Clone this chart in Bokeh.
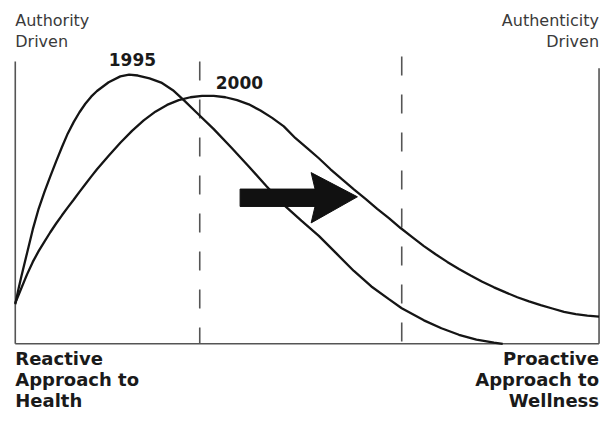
from bokeh.plotting import figure
from bokeh.models import Label, Range1d
from bokeh.embed import file_html
from bokeh.resources import INLINE

# ---- data (position along continuum 0..100, relative level 0..100) ----
x_1995 = [0, 0.5, 1, 2, 3, 4, 5, 6, 7, 8, 9, 10, 11, 12, 13, 14, 16, 18, 19.5, 21, 23, 25, 27,
          29, 31, 34, 37, 40, 43, 46, 49, 52, 55, 58, 61, 64, 66.2, 70, 73, 76, 79, 82, 83.5]
y_1995 = [14, 19, 23.5, 32, 40.5, 47.8, 53.8, 59.3, 64.6, 69.7, 74.5, 78.5, 82, 85, 87.5, 89.5,
          92.6, 94.7, 95.3, 95.0, 94.0, 92.5, 89.8, 86.0, 82.0, 76.0, 69.5, 62.8, 55.9, 49.2,
          43.6, 38.2, 32.0, 25.8, 20.3, 15.8, 12.6, 8.3, 5.5, 3.2, 1.5, 0.4, 0]

x_2000 = [0, 1, 2, 3, 4, 5, 6, 7, 8, 9, 10, 11, 12, 13, 14, 16, 18, 20, 22, 24, 26, 28, 30, 32,
          34, 36, 38, 40, 42, 44, 46, 48, 50, 52, 54, 56, 58, 60, 62, 64, 66, 68, 70, 72, 74, 76,
          78, 80, 82, 84, 86, 88, 90, 92, 94, 96, 98, 100]
y_2000 = [14.4, 19.5, 24.5, 29, 32.8, 36.2, 39.5, 42.6, 45.5, 48.3, 51, 53.8, 56.5, 59.2, 61.8,
          66.6, 71.2, 75.4, 79.1, 82.2, 84.6, 86.3, 87.3, 87.8, 87.8, 87.3, 86.3, 84.8, 82.6, 80,
          77, 72.8, 69.3, 65.7, 61.8, 58.2, 54.7, 51.3, 47.8, 44.5, 41, 37.8, 34.6, 31.7, 29,
          26.5, 24.2, 22, 20, 18.2, 16.5, 15.0, 13.7, 12.5, 11.3, 10.5, 10.0, 9.6]

series_labels = ["1995", "2000"]
divider_x = [31.6, 66.2]
top_left_label = ["Authority", "Driven"]
top_right_label = ["Authenticity", "Driven"]
bottom_left_label = ["Reactive", "Approach to", "Health"]
bottom_right_label = ["Proactive", "Approach to", "Wellness"]

# ---- figure ----
p = figure(width=600, height=411, output_backend="svg", toolbar_location=None,
           x_range=Range1d(-2.531, 100.25), y_range=Range1d(-23.97, 121.56),
           min_border=0, min_border_left=0, min_border_right=0,
           min_border_top=0, min_border_bottom=0)
p.axis.visible = False
p.grid.visible = False
p.outline_line_color = None
p.background_fill_color = "white"
p.border_fill_color = "white"

axis_col = "#555555"
# frame lines
p.line([0, 0], [100, 0], line_color=axis_col, line_width=1.6)
p.line([0, 100], [0, 0], line_color=axis_col, line_width=1.6)
p.line([100, 100], [97.6, 0], line_color=axis_col, line_width=1.6)

# dashed dividers
p.line([divider_x[0], divider_x[0]], [100, 0], line_color=axis_col, line_width=1.6,
       line_dash="19 19")
p.line([divider_x[1], divider_x[1]], [101.7, 0], line_color=axis_col, line_width=1.6,
       line_dash="19 19")

# curves
p.line(x_1995, y_1995, line_color="#151515", line_width=2.3)
p.line(x_2000, y_2000, line_color="#151515", line_width=2.3)

# arrow
arrow_x = [38.51, 51.35, 50.68, 58.61, 50.68, 51.35, 38.51]
arrow_y = [54.79, 54.79, 60.62, 52.05, 42.81, 48.63, 48.63]
p.patch(arrow_x, arrow_y, fill_color="#111111", line_color="#111111", line_width=1)

FONT = "DejaVu Sans"

def lab(text, x, y, size, align="left", bold=False, color="#222222"):
    p.add_layout(Label(x=x, y=y, text=text, text_font=FONT, text_font_size=size,
                       text_font_style="bold" if bold else "normal",
                       text_align=align, text_baseline="alphabetic",
                       text_color=color))

# top labels
tl_y = [114.4, 106.9]
for t, yy in zip(top_left_label, tl_y):
    lab(t, 0, yy, "16px", "left", False, "#3a3a3a")
for t, yy in zip(top_right_label, tl_y):
    lab(t, 100, yy, "16px", "right", False, "#3a3a3a")

# series labels
lab(series_labels[0], 20.06, 100.7, "17px", "center", True, "#1a1a1a")
lab(series_labels[1], 38.4, 92.5, "17px", "center", True, "#1a1a1a")

# bottom labels
bl_y = [-5.21, -12.64, -20.07]
for t, yy in zip(bottom_left_label, bl_y):
    lab(t, 0, yy, "18px", "left", True, "#1a1a1a")
for t, yy in zip(bottom_right_label, bl_y):
    lab(t, 100, yy, "18px", "right", True, "#1a1a1a")

open("out.html", "w").write(file_html(p, INLINE))
